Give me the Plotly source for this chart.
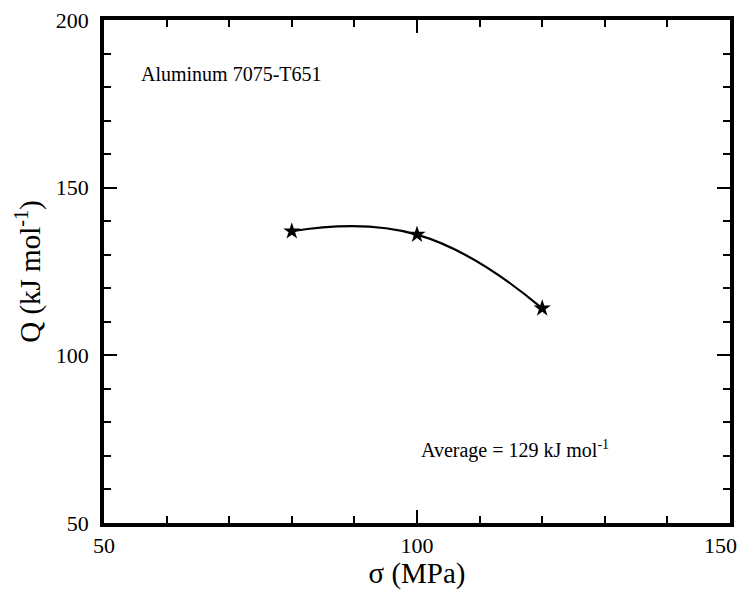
import plotly.graph_objects as go

stress_mpa = [80, 100, 120]
activation_q = [137, 136, 114]
x_ticks = [50, 100, 150]
x_tick_text = ["50", "100", ""]
x_end_tick = [150]
x_end_text = ["150"]
y_ticks = [50, 100, 150, 200]

FONT = "Liberation Serif"

fig = go.Figure()
fig.add_trace(go.Scatter(
    x=stress_mpa, y=activation_q,
    mode="lines+markers",
    line=dict(color="black", width=2.2, shape="spline", smoothing=1.3),
    marker=dict(symbol="star", size=13, color="black"),
    showlegend=False, cliponaxis=False, hoverinfo="skip",
))
# empty helper trace so that the overlay axis carrying the end label is drawn
fig.add_trace(go.Scatter(
    x=[None], y=[None], xaxis="x2", yaxis="y", mode="markers",
    showlegend=False, hoverinfo="skip",
))

axis_common = dict(
    showgrid=False, zeroline=False, automargin=False,
    showline=True, linecolor="black", linewidth=3.5, mirror="ticks",
    ticks="inside", ticklen=13, tickwidth=1.5, tickcolor="black",
    tickfont=dict(family=FONT, size=22, color="black"),
)

fig.update_layout(xaxis=dict(
    range=[50, 150], tickvals=x_ticks, ticktext=x_tick_text,
    minor=dict(dtick=10, ticks="inside", ticklen=7, tickwidth=1.5, tickcolor="black", showgrid=False),
    title=dict(text="σ (MPa)", font=dict(family=FONT, size=29, color="black"), standoff=6),
    **axis_common,
))
fig.update_layout(yaxis=dict(
    range=[50, 200], tickvals=y_ticks, ticktext=[str(v) for v in y_ticks],
    minor=dict(dtick=10, ticks="inside", ticklen=7, tickwidth=1.5, tickcolor="black", showgrid=False),
    title=dict(text="Q (kJ mol<sup>-1</sup>)", font=dict(family=FONT, size=29, color="black"), standoff=8),
    ticklabelstandoff=7,
    **axis_common,
))

# end label of the x axis, right-aligned at its tick (as in the reference)
fig.update_layout(xaxis2=dict(
    overlaying="x", anchor="y", side="bottom", range=[50, 150],
    showgrid=False, zeroline=False, showline=False, automargin=False,
    ticks="", tickvals=x_end_tick, ticktext=x_end_text,
    ticklabelposition="outside left", ticklabelshift=7, ticklabelstandoff=7,
    tickfont=dict(family=FONT, size=22, color="black"),
))

fig.add_annotation(x=55.6, y=184, xref="x", yref="y", text="Aluminum 7075-T651",
                   showarrow=False, xanchor="left", yanchor="middle",
                   font=dict(family=FONT, size=20, color="black"))
fig.add_annotation(x=100.3, y=72, xref="x", yref="y", text="Average = 129 kJ mol<sup>-1</sup>",
                   showarrow=False, xanchor="left", yanchor="middle",
                   font=dict(family=FONT, size=20, color="black"))

fig.update_layout(
    width=738, height=590,
    margin=dict(l=104, r=8, t=20, b=67),
    paper_bgcolor="white", plot_bgcolor="white",
)

fig.write_html(
    "out.html",
    config={"displayModeBar": False},
    post_script="document.body.style.margin='0px';document.body.style.overflow='hidden';",
)
